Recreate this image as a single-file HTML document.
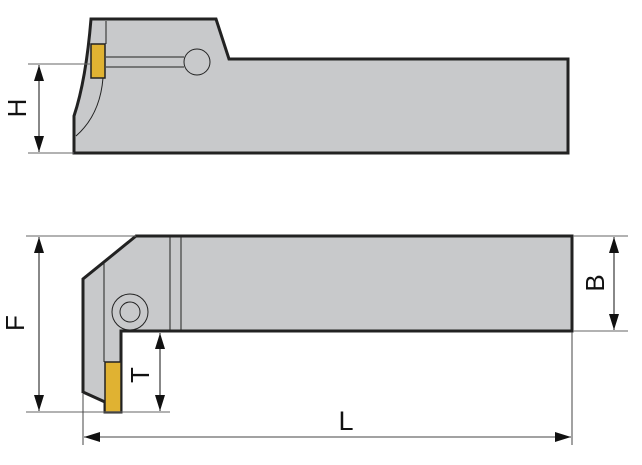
<!DOCTYPE html>
<html><head><style>html,body{margin:0;padding:0;background:#fff}svg{display:block}</style></head>
<body>
<svg width="642" height="465" viewBox="0 0 642 465" xmlns="http://www.w3.org/2000/svg">
<defs>
<marker id="b" viewBox="0 0 16 10" refX="16" refY="5" markerWidth="16" markerHeight="10" markerUnits="userSpaceOnUse" orient="auto-start-reverse"><path d="M0,0 L16,5 L0,10 Z" fill="#111"/></marker>
</defs>
<!-- top view -->
<path d="M91,19 L216,19 L229,59 L568,59 L568,153 L74,153 L74,116 Q86,80 91,19 Z" fill="#c8c9cb" stroke="#222" stroke-width="3"/>
<line x1="106" y1="21" x2="106" y2="44" stroke="#222" stroke-width="1"/>
<line x1="106" y1="57" x2="184" y2="57" stroke="#222" stroke-width="1"/>
<line x1="106" y1="67" x2="184" y2="67" stroke="#222" stroke-width="1"/>
<circle cx="197" cy="62" r="13" fill="#c8c9cb" stroke="#222" stroke-width="1"/>
<path d="M103,78 Q100,115 76,136" fill="none" stroke="#222" stroke-width="1"/>
<rect x="91" y="44" width="14" height="34" fill="#e0b232" stroke="#222" stroke-width="1.5"/>
<line x1="28" y1="64" x2="90" y2="64" stroke="#666" stroke-width="1"/>
<line x1="28" y1="153" x2="74" y2="153" stroke="#666" stroke-width="1"/>
<line x1="39" y1="65" x2="39" y2="152" stroke="#111" stroke-width="1" marker-start="url(#b)" marker-end="url(#b)"/>
<text x="19" y="108" transform="rotate(-90 19 108)" text-anchor="middle" dominant-baseline="middle" font-family="Liberation Sans, sans-serif" font-size="26" fill="#111">H</text>
<!-- bottom view -->
<path d="M136,236 L572,236 L572,331 L121,331 L121,412 L105,412 L105,402 L83,392 L83,279 Z" fill="#c8c9cb" stroke="#222" stroke-width="3"/>
<line x1="104" y1="263" x2="104" y2="362" stroke="#222" stroke-width="1"/>
<line x1="170" y1="237" x2="170" y2="330" stroke="#222" stroke-width="1"/>
<line x1="181" y1="237" x2="181" y2="330" stroke="#222" stroke-width="1"/>
<circle cx="130" cy="312" r="18" fill="none" stroke="#222" stroke-width="1"/>
<circle cx="130" cy="312" r="10" fill="none" stroke="#222" stroke-width="1"/>
<rect x="105" y="362" width="16" height="50" fill="#e0b232" stroke="#222" stroke-width="1.5"/>
<line x1="26" y1="236" x2="136" y2="236" stroke="#666" stroke-width="1"/>
<line x1="26" y1="412" x2="170" y2="412" stroke="#666" stroke-width="1"/>
<line x1="39" y1="237" x2="39" y2="411" stroke="#111" stroke-width="1" marker-start="url(#b)" marker-end="url(#b)"/>
<text x="17" y="323" transform="rotate(-90 17 323)" text-anchor="middle" dominant-baseline="middle" font-family="Liberation Sans, sans-serif" font-size="26" fill="#111">F</text>
<line x1="160" y1="333" x2="160" y2="411" stroke="#111" stroke-width="1" marker-start="url(#b)" marker-end="url(#b)"/>
<text x="142" y="375" transform="rotate(-90 142 375)" text-anchor="middle" dominant-baseline="middle" font-family="Liberation Sans, sans-serif" font-size="26" fill="#111">T</text>
<line x1="573" y1="236" x2="628" y2="236" stroke="#666" stroke-width="1"/>
<line x1="573" y1="331" x2="628" y2="331" stroke="#666" stroke-width="1"/>
<line x1="614" y1="237" x2="614" y2="330" stroke="#111" stroke-width="1" marker-start="url(#b)" marker-end="url(#b)"/>
<text x="597" y="283" transform="rotate(-90 597 283)" text-anchor="middle" dominant-baseline="middle" font-family="Liberation Sans, sans-serif" font-size="26" fill="#111">B</text>
<line x1="83" y1="394" x2="83" y2="445" stroke="#444" stroke-width="1"/>
<line x1="572" y1="332" x2="572" y2="445" stroke="#444" stroke-width="1"/>
<line x1="84" y1="437" x2="571" y2="437" stroke="#444" stroke-width="1" marker-start="url(#b)" marker-end="url(#b)"/>
<text x="346" y="430" text-anchor="middle" font-family="Liberation Sans, sans-serif" font-size="27" fill="#111">L</text>
</svg>
</body></html>
